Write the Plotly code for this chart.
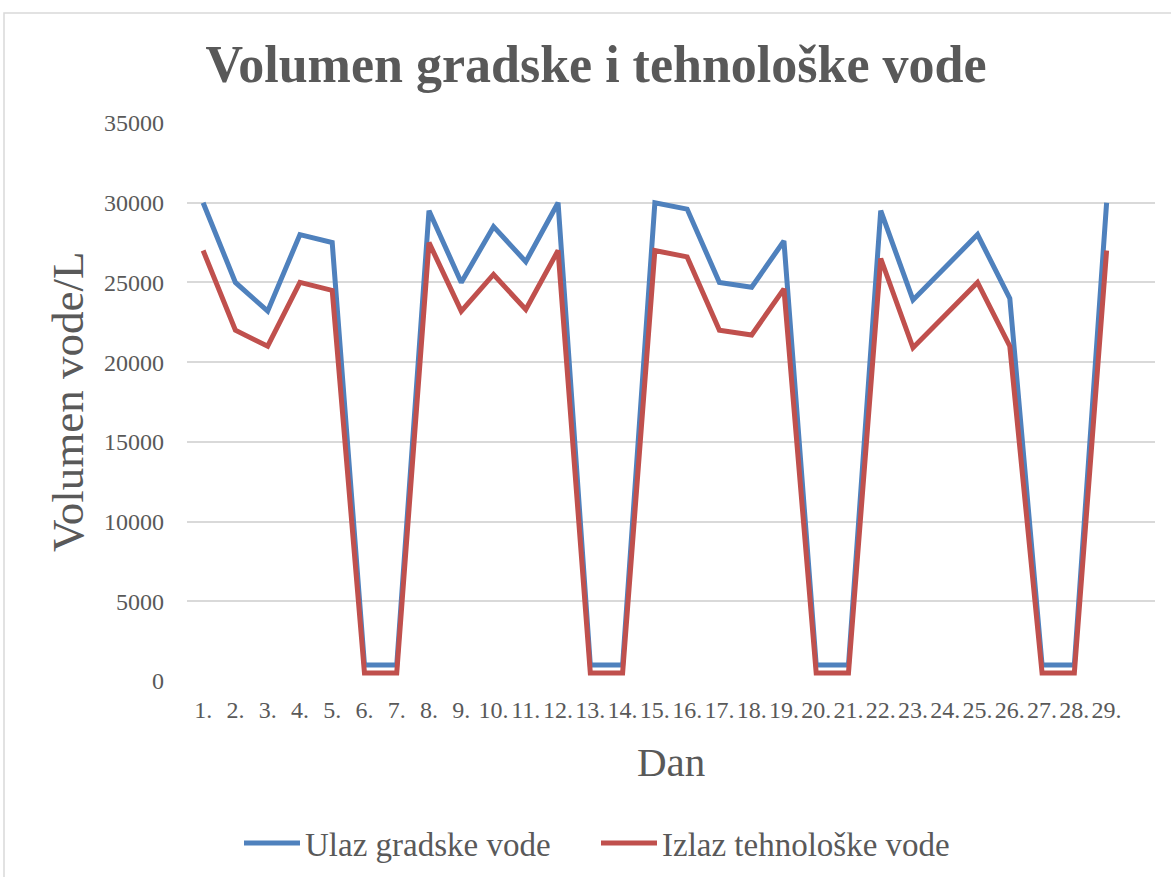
import plotly.graph_objects as go

days = [f"{i}." for i in range(1, 30)]
ulaz = [30000, 25000, 23200, 28000, 27500, 1000, 1000, 29500, 25000, 28500,
        26300, 30000, 1000, 1000, 30000, 29600, 25000, 24700, 27600, 1000,
        1000, 29500, 23900, 26000, 28000, 24000, 1000, 1000, 30000]
izlaz = [27000, 22000, 21000, 25000, 24500, 500, 500, 27500, 23200, 25500,
         23300, 27000, 500, 500, 27000, 26600, 22000, 21700, 24600, 500,
         500, 26500, 20900, 23000, 25000, 21000, 500, 500, 27000]
y_ticks = [0, 5000, 10000, 15000, 20000, 25000, 30000, 35000]

L, R, T, B = 187, 16, 123, 196
W, H = 1171, 877
pw, ph = W - L - R, H - T - B

def px(x):
    return (x - L) / pw

def py(y):
    return (H - B - y) / ph

FONT = "Liberation Serif"
GRAY = "#595959"

fig = go.Figure()
fig.add_trace(go.Scatter(x=list(range(29)), y=ulaz, mode="lines", name="Ulaz gradske vode",
                         line=dict(color="#4F81BD", width=5)))
fig.add_trace(go.Scatter(x=list(range(29)), y=izlaz, mode="lines", name="Izlaz tehnološke vode",
                         line=dict(color="#C0504D", width=5)))

fig.update_layout(
    width=W, height=H,
    margin=dict(l=L, r=R, t=T, b=B),
    paper_bgcolor="white", plot_bgcolor="white",
    font=dict(family=FONT, color=GRAY),
    title=dict(text="<b>Volumen gradske i tehnološke vode</b>", x=596 / W, xanchor="center",
               xref="container", y=1 - 64 / H, yref="container", yanchor="middle",
               font=dict(size=52, color=GRAY, family=FONT)),
    xaxis=dict(range=[-0.5, 29.5], tickmode="array", tickvals=list(range(29)), ticktext=days,
               showgrid=False, zeroline=False, showline=False, ticks="",
               ticklabelstandoff=12,
               tickfont=dict(size=24, color=GRAY), fixedrange=True),
    yaxis=dict(range=[0, 35000], tickmode="array", tickvals=y_ticks,
               ticktext=[str(v) for v in y_ticks],
               showgrid=True, gridcolor="#d9d9d9", gridwidth=1.5, zeroline=False,
               showline=False, ticks="", ticklabelstandoff=22,
               tickfont=dict(size=24, color=GRAY)),
    showlegend=True,
    legend=dict(orientation="h", x=596 / W, xanchor="center", xref="container",
                y=1 - 843 / H, yref="container", yanchor="middle",
                font=dict(size=33, color=GRAY), itemwidth=56,
                entrywidth=286, entrywidthmode="pixels",
                traceorder="normal"),
    annotations=[
        dict(text="Volumen vode/L", x=px(68), y=py(402), xref="paper", yref="paper",
             textangle=-90, showarrow=False, font=dict(size=45, color=GRAY),
             xanchor="center", yanchor="middle"),
        dict(text="Dan", x=px(671), y=py(762),
             xref="paper", yref="paper", showarrow=False,
             font=dict(size=41, color=GRAY), xanchor="center", yanchor="middle"),
    ],
    shapes=[
        dict(type="rect", xref="paper", yref="paper", x0=px(4), x1=px(1180),
             y0=py(13), y1=py(900), line=dict(color="#d9d9d9", width=1.5),
             fillcolor="rgba(0,0,0,0)", layer="below"),
    ],
)

fig.write_html("out.html", config={"displayModeBar": False},
               post_script="document.body.style.margin='0px';document.body.style.padding='0px';")
